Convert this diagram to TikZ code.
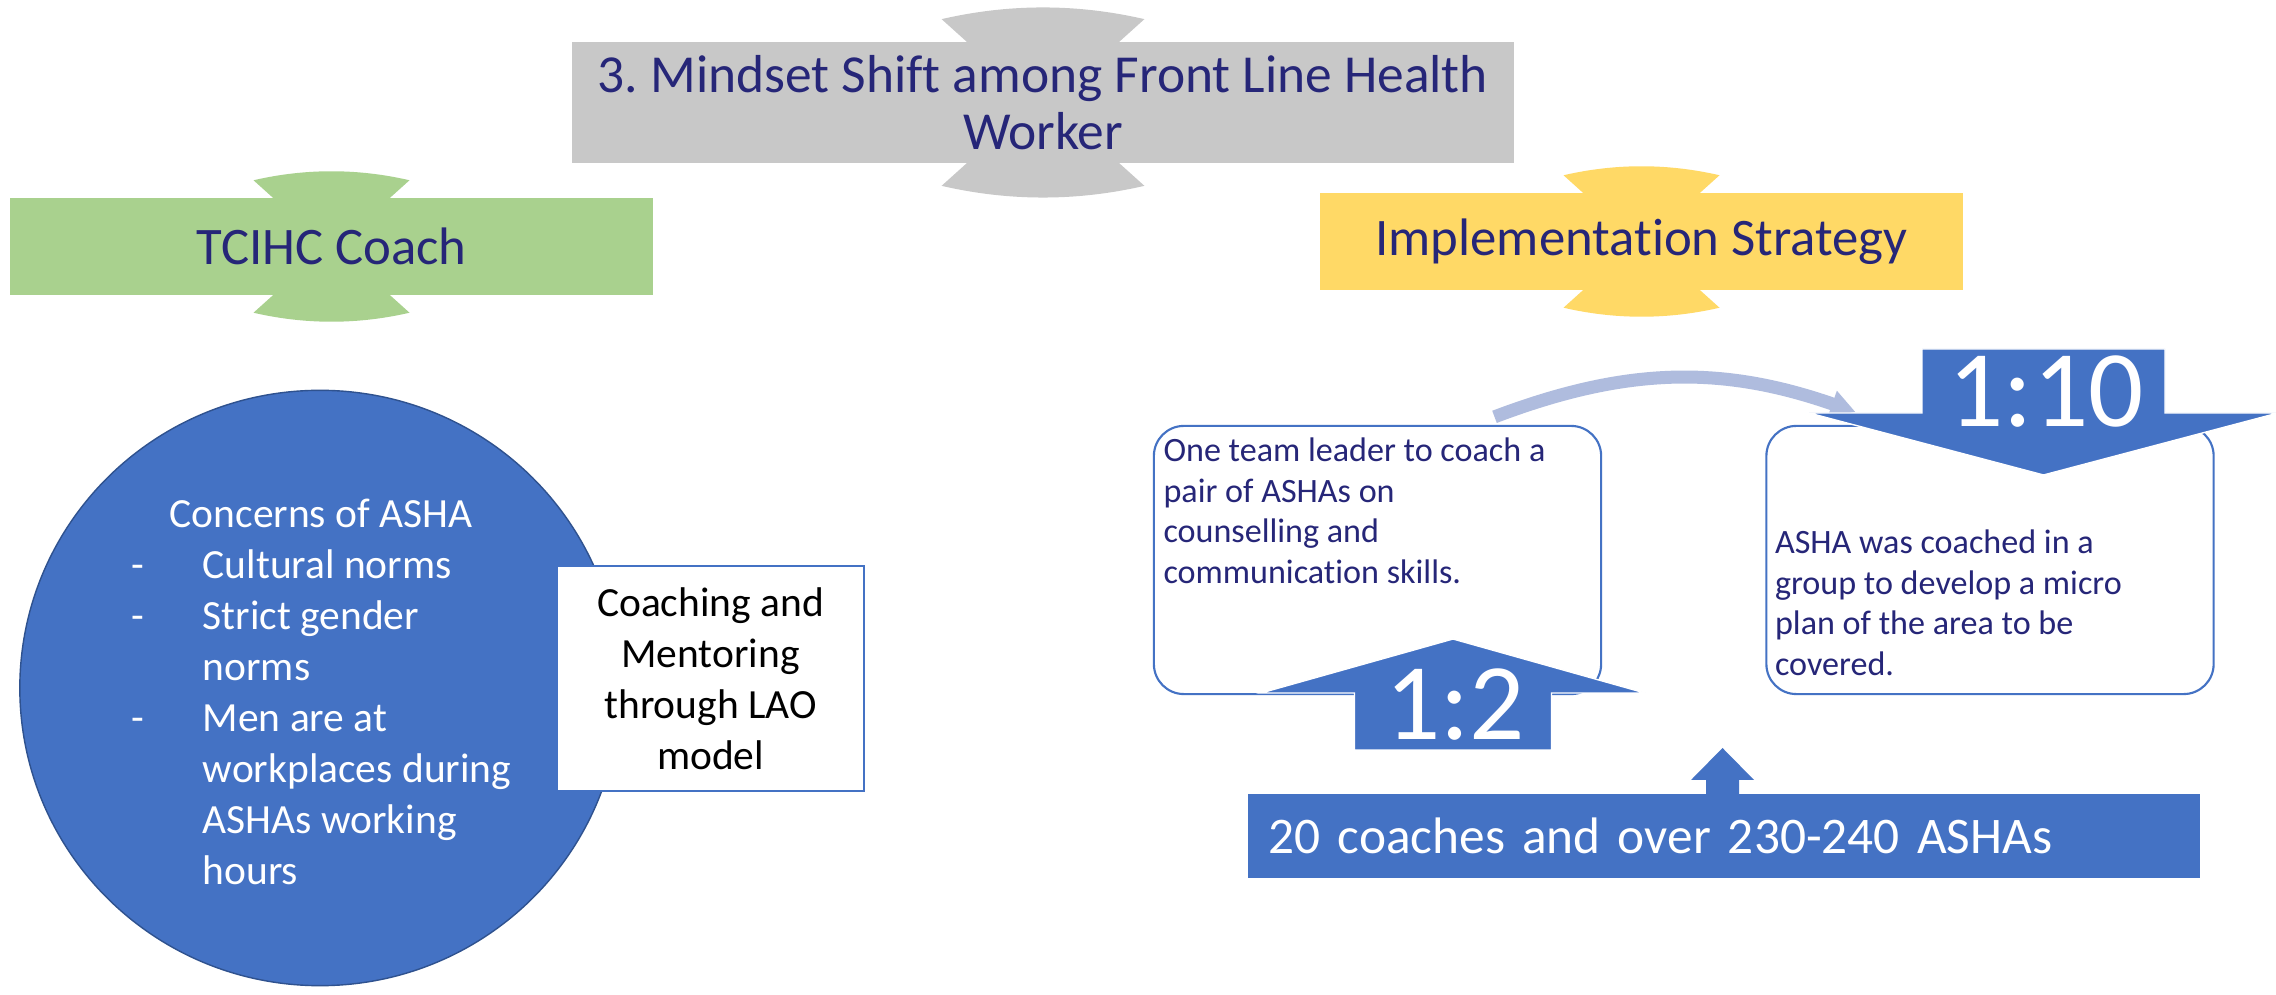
\documentclass[tikz,border=0pt]{standalone}
\usepackage{fontspec}
\setmainfont{Carlito}[Ligatures=NoCommon]
\usepackage{tikz}
\usetikzlibrary{arrows.meta,positioning,calc,shapes.geometric}
\frenchspacing
\definecolor{navytext}{RGB}{38,38,120}
\definecolor{tabgrey}{RGB}{200,200,200}
\definecolor{tabgreen}{RGB}{169,209,142}
\definecolor{tabyellow}{RGB}{255,217,102}
\definecolor{ppblue}{RGB}{68,114,196}
\definecolor{ppdark}{RGB}{47,82,143}
\definecolor{ppfaint}{RGB}{175,188,222}
\tikzset{
    %Define standard arrow tip
    >={Triangle[width=7.4pt,length=7pt]},
    %Define style for header boxes
    header/.style={
           rectangle, inner sep=0pt, text=navytext, align=center,
           font=\fontsize{15}{16.2}\selectfont},
    % Define arrow style
    swing/.style={
           ->,
           line width=3.7pt,
           draw=ppfaint}
}
% tabs above and below a header box: node, colour, size factor
\newcommand{\headtabs}[3]{%
	\fill[#2, shift={(#1.north)}, scale=#3] (-58,1) -- (-78,-17) .. controls (-26,-29) and (26,-29) .. (78,-17) -- (58,1) -- cycle;
	\fill[#2, shift={(#1.south)}, scale=#3] (-58,-1) -- (-78,17) .. controls (-26,29) and (26,29) .. (78,17) -- (58,-1) -- cycle;
}

\begin{document}
\begin{tikzpicture}[x=0.01cm, y=-0.01cm]
	\tikzstyle{notebox} = [rectangle, draw=ppblue, line width=0.6pt, fill=white, rounded corners=0.3cm, minimum width=4.47cm, minimum height=2.68cm, inner sep=0pt]
	\tikzstyle{notetext} = [anchor=base west, inner sep=0pt, text=navytext, font=\fontsize{9.7}{11.5}\selectfont]
	\tikzstyle{ratio} = [anchor=base, inner sep=0pt, text=white, font=\fontsize{31}{31}\selectfont]
	\tikzstyle{bodytext} = [inner sep=0pt, font=\fontsize{11.8}{14.5}\selectfont]
	\tikzstyle{blockarrow} = [fill=ppblue, draw=white, line width=0.4pt]

	\path[use as bounding box, fill=white] (0,0) rectangle (2276,995);

	% Headers
	\node[header, fill=tabgrey, minimum width=9.42cm, minimum height=1.21cm, font=\fontsize{15.2}{16.2}\selectfont](mindset) at (1043,102.5){3. Mindset Shift among Front Line Health\\Worker};
	\headtabs{mindset}{tabgrey}{1.3}

	\node[header, fill=tabgreen, minimum width=6.43cm, minimum height=0.97cm](coach) at (331.5,246.5){TCIHC Coach};
	\headtabs{coach}{tabgreen}{1}

	\node[header, fill=tabyellow, minimum width=6.43cm, minimum height=0.97cm](strategy) at (1641.5,241.5){Implementation Strategy};
	\headtabs{strategy}{tabyellow}{1}

	% Concerns of ASHA
	\node[ellipse, fill=ppblue, draw=ppdark, line width=0.4pt, minimum width=6.0cm, minimum height=5.95cm, inner sep=0pt](concern) at (320,688){};
	\node[bodytext, anchor=base west, text=white](concernlist) at (131,528){%
		\begin{tabular}[t]{@{}p{0.71cm}@{}l@{}}
			\multicolumn{2}{@{\hspace{0.38cm}}l@{}}{Concerns of ASHA}\\
			- & Cultural norms\\
			- & Strict gender\\
			  & norms\\
			- & Men are at\\
			  & workplaces during\\
			  & ASHAs working\\
			  & hours
		\end{tabular}};

	\node[bodytext, rectangle, draw=ppblue, line width=0.5pt, fill=white, minimum width=3.07cm, minimum height=2.25cm, align=center](lao) at (710.5,678.5){Coaching and\\Mentoring\\through LAO\\model};

	% Coaching ratios
	\node[notebox](pairbox) at (1377.5,560){};
	\node[notetext](pairtext) at ($(pairbox.north west)+(10,37)$){%
		\begin{tabular}[t]{@{}l@{}}One team leader to coach a\\pair of ASHAs on\\counselling and\\communication skills.\end{tabular}};

	\node[notebox](groupbox) at (1990,560){};
	\node[notetext](grouptext) at ($(groupbox.north west)+(9,129)$){%
		\begin{tabular}[t]{@{}l@{}}ASHA was coached in a\\group to develop a micro\\plan of the area to be\\covered.\end{tabular}};

	\coordinate (tenhead) at (2043.5,413);
	\coordinate (twohead) at (1453,693);
	\coordinate (arcstart) at ($(pairbox.north)+(117,-8)$);
	\coordinate (arcend) at ($(tenhead)+(-188,-1)$);

	\draw[swing] (arcstart) to[bend left=20] (arcend);

	\path[blockarrow] (tenhead) ++(-121.5,0) -- ++(0,-64) -- ++(243,0) -- ++(0,64) -- ++(113,0) -- ++(-234.5,62) -- ++(-234.5,-62) -- cycle;
	\node[ratio](tenlabel) at ($(tenhead)+(2.5,14)$){1:10};

	\path[blockarrow] (twohead) ++(-98.5,57) -- ++(0,-57) -- ++(-93.5,0) -- ++(192,-54) -- ++(192,54) -- ++(-93.5,0) -- ++(0,57) -- cycle;
	\node[ratio](twolabel) at ($(twohead)+(2,47)$){1:2};

	% Coaches and ASHAs
	\node[rectangle, fill=ppblue, text=white, anchor=north west, minimum width=9.52cm, minimum height=0.84cm, inner sep=0pt, text width=9.10cm, align=left, font=\fontsize{14.6}{18}\selectfont](coachbar) at (1247,793){20 coaches and over 230-240 ASHAs};
	\coordinate (pointer) at ($(coachbar.north west)+(475.5,0)$);
	\fill[ppblue] (pointer) ++(-16.5,1) -- ++(0,-14) -- ++(-15,0) -- ++(31.5,-32) -- ++(31.5,32) -- ++(-15,0) -- ++(0,14) -- cycle;

\end{tikzpicture}
\end{document}
